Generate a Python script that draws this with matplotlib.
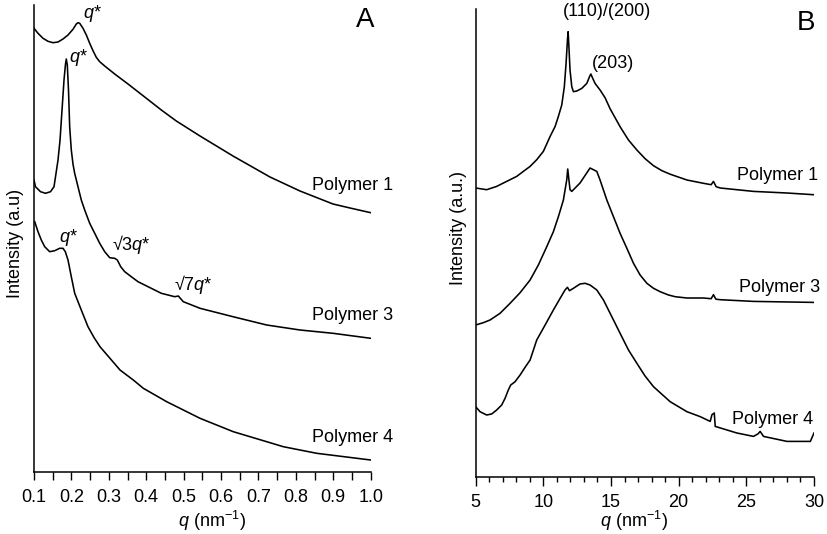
import matplotlib
matplotlib.use("Agg")
import matplotlib.pyplot as plt
from matplotlib.ticker import MultipleLocator

plt.rcParams['font.family'] = ['Liberation Sans', 'DejaVu Sans']
plt.rcParams['mathtext.fontset'] = 'custom'
plt.rcParams['mathtext.rm'] = 'Liberation Sans'
plt.rcParams['mathtext.it'] = 'Liberation Sans:italic'

# ---------------- Panel A (SAXS) ----------------
qA_p1 = [0.100, 0.1107, 0.1241, 0.1374, 0.1508, 0.1642, 0.1775, 0.1909, 0.2042, 0.2131,
         0.2176, 0.2222, 0.2310, 0.2399, 0.2489, 0.2577, 0.2665, 0.2756, 0.2890, 0.3157,
         0.3513, 0.3959, 0.4403, 0.4804, 0.5437, 0.6319, 0.7308, 0.8110, 0.8992, 0.9447,
         1.0]
IA_p1 = [443.7, 438.7, 433.7, 430.7, 429.3, 430, 433, 437, 442.7, 448,
         449.3, 448.7, 443.7, 437, 428.7, 421.3, 414.7, 410.3, 406, 398,
         388, 375, 362, 351, 336, 316, 295, 281, 268, 264,
         259.3]

qA_p3 = [0.100, 0.1040, 0.1174, 0.1308, 0.1441, 0.1535, 0.1642, 0.1696, 0.1749, 0.1802,
         0.1842, 0.1863, 0.1890, 0.1922, 0.1954, 0.1997, 0.2042, 0.2087, 0.2176, 0.2264,
         0.2355, 0.2489, 0.2623, 0.2756, 0.2890, 0.3024, 0.3157, 0.3227, 0.3318, 0.3425,
         0.3601, 0.3780, 0.4048, 0.4403, 0.4760, 0.4857, 0.4991, 0.5437, 0.6319, 0.7220,
         0.8110, 0.8992, 1.0]
IA_p3 = [292, 285.3, 280.3, 278.7, 280.3, 285.3, 312, 332, 362, 392,
         408, 413, 407, 382, 345, 322, 308, 298.7, 285.3, 272,
         262, 248.7, 238.7, 228.7, 220.3, 214.3, 213.7, 212, 205.3, 200.3,
         195.3, 190.3, 185.3, 178.7, 175.3, 176, 170.3, 163.7, 155.3, 147,
         142, 138.7, 133.7]

qA_p4 = [0.1019, 0.1107, 0.1195, 0.1286, 0.1419, 0.1553, 0.1686, 0.1775, 0.1837, 0.1909,
         0.1997, 0.2088, 0.2264, 0.2443, 0.2604, 0.2764, 0.3299, 0.3654, 0.3922, 0.4547,
         0.5437, 0.6327, 0.7220, 0.7664, 0.8557, 1.0]
IA_p4 = [250.3, 240.3, 232, 225.3, 220.3, 221.3, 223.7, 223.7, 220.3, 212,
         195.3, 178.7, 162, 145.3, 134.5, 125.3, 102, 92, 83.7, 70.3,
         53.7, 40.3, 30.3, 25.3, 18.7, 12]

# ---------------- Panel B (WAXS) ----------------
qB_p1 = [5.0, 5.81, 6.55, 7.05, 7.54, 8.03, 8.52, 9.02, 9.51, 10.0,
         10.50, 10.87, 11.11, 11.36, 11.55, 11.68, 11.78, 11.83, 11.90, 11.97,
         12.10, 12.22, 12.47, 12.84, 13.21, 13.41, 13.51, 13.65, 13.82, 14.19,
         14.56, 14.93, 15.67, 16.29, 16.91, 17.52, 18.14, 18.76, 19.37, 20.61,
         21.83, 22.40, 22.57, 22.77, 23.07, 25.53, 28.0, 29.97]
IB_p1 = [288.7, 287, 290.3, 293.7, 297, 300.3, 305.3, 310.3, 317, 325.3,
         340.3, 350.3, 360.3, 371.7, 390, 413.7, 436.7, 445, 426.7, 406.7,
         390, 385, 385.7, 388.3, 393.3, 400, 402.7, 398.3, 393.3, 386.7,
         379, 368, 350, 336.7, 326.7, 318, 311, 306, 302.5, 296.7,
         293.4, 292, 295.3, 290, 288.7, 285.3, 283.7, 282]

qB_p3 = [5.0, 5.56, 6.06, 6.80, 7.54, 8.28, 9.02, 9.63, 10.25, 10.74,
         11.11, 11.48, 11.73, 11.80, 11.97, 12.10, 12.71, 13.45, 13.95, 14.19,
         14.69, 15.18, 15.67, 16.17, 16.66, 17.15, 17.65, 18.14, 18.63, 19.25,
         19.74, 20.61, 21.83, 22.40, 22.57, 22.75, 23.07, 25.53, 29.97]
IB_p3 = [151.7, 154, 156.7, 163.4, 173.4, 184, 196.7, 211.7, 230, 245,
         260, 276.7, 297, 307.7, 287, 285.3, 293.7, 308.7, 305.3, 296.7,
         276.7, 260, 243.4, 228.4, 213.4, 201.7, 193.4, 188.4, 185, 181.7,
         180, 178.7, 178.7, 178, 182, 177.5, 177, 175.3, 174.3]

qB_p4 = [5.0, 5.32, 5.81, 6.18, 6.55, 6.92, 7.17, 7.41, 7.59, 7.91,
         8.28, 8.65, 9.02, 9.51, 10.13, 10.74, 11.24, 11.60, 11.78, 11.93,
         12.22, 12.71, 13.08, 13.45, 13.95, 14.44, 15.06, 15.67, 16.29, 16.91,
         17.5, 18.14, 19.37, 20.61, 21.6, 22.33, 22.46, 22.63, 22.70, 24.3,
         25.53, 25.88, 26.02, 26.27, 28.0, 29.73, 30.0]
IB_p4 = [70, 65, 61.7, 62.7, 66.7, 71.7, 78.4, 86.7, 91.7, 95,
         101.7, 109.4, 116.7, 136.7, 151.7, 166.7, 178.4, 186.7, 189.4, 186,
         188.4, 192.7, 193.4, 191.7, 186.7, 176.7, 160, 143.4, 126.7, 113.4,
         101, 90, 75, 65, 60, 55.3, 62, 63.7, 50.3, 43.7,
         40.3, 43, 45.3, 40.3, 35.3, 35.3, 43.7]

W, H = 827, 534
fig = plt.figure(figsize=(W / 100, H / 100), dpi=100)

def px_axes(left, right, top, bottom):
    return fig.add_axes([left / W, (H - bottom) / H, (right - left) / W, (bottom - top) / H])

axA = px_axes(34, 370.7, 5, 472)
axB = px_axes(475.7, 814, 9, 476.7)

lw = 1.15
fs = 13
for ax in (axA, axB):
    ax.spines['top'].set_visible(False)
    ax.spines['right'].set_visible(False)
    ax.spines['left'].set_linewidth(1.1)
    ax.spines['bottom'].set_linewidth(1.1)
    ax.set_yticks([])
    ax.tick_params(axis='x', which='both', direction='out', labelsize=fs, width=1.0, pad=6)

# Panel A
axA.plot(qA_p1, IA_p1, color='black', lw=lw)
axA.plot(qA_p3, IA_p3, color='black', lw=lw)
axA.plot(qA_p4, IA_p4, color='black', lw=lw)
axA.set_xlim(0.1, 1.0)
axA.set_ylim(0, 467)
axA.xaxis.set_major_locator(MultipleLocator(0.1))
axA.xaxis.set_minor_locator(MultipleLocator(0.05))
axA.tick_params(axis='x', which='both', length=5.5, pad=7)
axA.set_xticklabels([f"{v:.1f}" for v in axA.get_xticks()])
axA.set_xlabel("$q$ (nm$^{-1}$)", fontsize=fs, va='center')
axA.xaxis.set_label_coords(0.529, -0.105)
axA.set_ylabel("Intensity (a.u)", fontsize=fs, va='center', ha='center')
axA.yaxis.set_label_coords(-0.0535, 0.49)

axA.text(0.255, 458, "$q$*", fontsize=fs, ha='center', va='center')
axA.text(0.218, 414, "$q$*", fontsize=fs, ha='center', va='center')
axA.text(0.191, 235, "$q$*", fontsize=fs, ha='center', va='center')
axA.text(0.359, 227, "√3$q$*", fontsize=fs, ha='center', va='center')
axA.text(0.525, 188, "√7$q$*", fontsize=fs, ha='center', va='center')
axA.text(0.985, 452, "A", fontsize=20, ha='center', va='center')
axA.text(1.06, 287, "Polymer 1", fontsize=fs, ha='right', va='center')
axA.text(1.06, 157, "Polymer 3", fontsize=fs, ha='right', va='center')
axA.text(1.06, 34, "Polymer 4", fontsize=fs, ha='right', va='center')

# Panel B
axB.plot(qB_p1, IB_p1, color='black', lw=lw)
axB.plot(qB_p3, IB_p3, color='black', lw=lw)
axB.plot(qB_p4, IB_p4, color='black', lw=lw)
axB.set_xlim(5, 30)
axB.set_ylim(0, 467.7)
axB.xaxis.set_major_locator(MultipleLocator(5))
axB.xaxis.set_minor_locator(MultipleLocator(1))
axB.tick_params(axis='x', which='major', length=6.5)
axB.tick_params(axis='x', which='minor', length=3.5)
axB.set_xlabel("$q$ (nm$^{-1}$)", fontsize=fs, va='center')
axB.xaxis.set_label_coords(0.469, -0.095)
axB.set_ylabel("Intensity (a.u.)", fontsize=fs, va='center', ha='center')
axB.yaxis.set_label_coords(-0.052, 0.532)

axB.text(14.69, 465.7, "(110)/(200)", fontsize=fs, ha='center', va='center')
axB.text(15.16, 413.7, "(203)", fontsize=fs, ha='center', va='center')
axB.text(29.43, 453.7, "B", fontsize=20, ha='center', va='center')
axB.text(30.32, 300.7, "Polymer 1", fontsize=fs, ha='right', va='center')
axB.text(30.47, 189.7, "Polymer 3", fontsize=fs, ha='right', va='center')
axB.text(29.95, 56.7, "Polymer 4", fontsize=fs, ha='right', va='center')

fig.savefig("out.png", dpi=100)
